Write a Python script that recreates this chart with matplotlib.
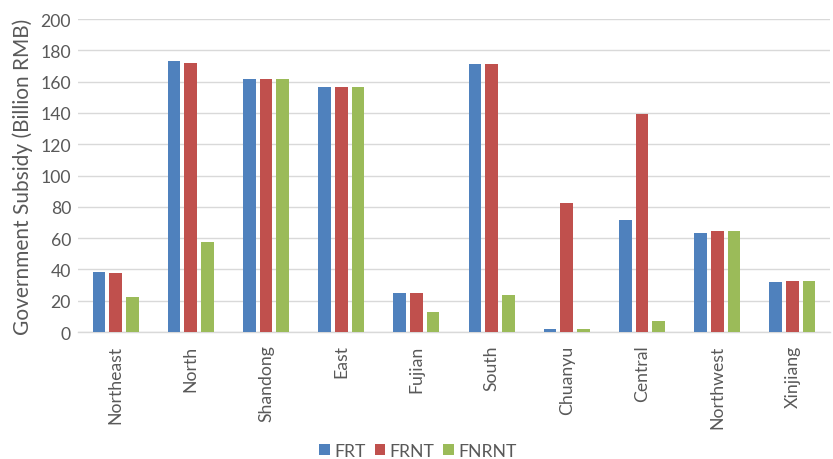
import numpy as np
import matplotlib
matplotlib.use("Agg")
import matplotlib.pyplot as plt

plt.rcParams['font.family'] = ['Lato', 'DejaVu Sans']

regions = ["Northeast", "North", "Shandong", "East", "Fujian",
           "South", "Chuanyu", "Central", "Northwest", "Xinjiang"]
frt = [38.5, 173.2, 161.9, 156.8, 25.1, 171.0, 1.7, 71.8, 63.5, 32.2]
frnt = [37.7, 171.7, 161.9, 156.8, 25.1, 171.0, 82.6, 139.5, 64.7, 32.6]
fnrnt = [22.6, 57.7, 161.9, 156.8, 12.6, 23.8, 1.7, 7.2, 64.7, 32.6]
series_names = ["FRT", "FRNT", "FNRNT"]
colors = ["#4F81BD", "#C0504D", "#9BBB59"]
yticks = [0, 20, 40, 60, 80, 100, 120, 140, 160, 180, 200]

text_color = "#595959"
grid_color = "#D9D9D9"

fig = plt.figure(figsize=(8.33, 4.60), dpi=100)
ax = fig.add_axes([78 / 833, 1 - 333 / 460, 752 / 833, 313 / 460])

x = np.arange(len(regions))
width = 0.17
step = 0.222
for i, (vals, name, col) in enumerate(zip([frt, frnt, fnrnt], series_names, colors)):
    ax.bar(x + (i - 1) * step, vals, width=width, color=col, label=name, zorder=3)

ax.set_xlim(-0.5, len(regions) - 0.5)
ax.set_ylim(0, 200)
ax.set_yticks(yticks)
ax.set_xticks(x)
ax.set_xticklabels(regions, rotation=90, fontsize=12.7, color=text_color)
ax.tick_params(axis='y', labelsize=12.7, labelcolor=text_color, length=0, pad=5)
ax.tick_params(axis='x', length=0, pad=9)
ax.grid(axis='y', color=grid_color, linewidth=1, zorder=0)
for s in ["top", "right", "left"]:
    ax.spines[s].set_visible(False)
ax.spines["bottom"].set_color(grid_color)
ax.spines["bottom"].set_linewidth(1)

ax.set_ylabel("Government Subsidy (Billion RMB)", fontsize=15, color=text_color, labelpad=5)

fig.legend(loc="center", bbox_to_anchor=(418 / 833, 1 - 452 / 460), ncol=3, frameon=False,
           fontsize=12.7, labelcolor=text_color, handlelength=0.6, handleheight=0.6,
           handletextpad=0.25, columnspacing=0.5)

fig.savefig("out.png", dpi=100)
